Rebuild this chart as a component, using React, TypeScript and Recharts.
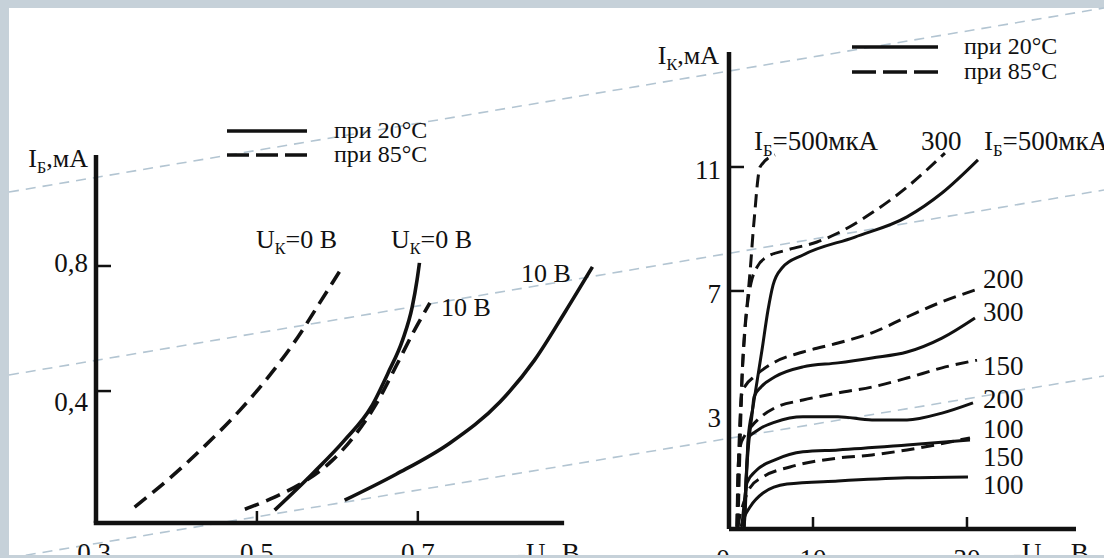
import { Line, LineChart, ReferenceLine, XAxis, YAxis } from "recharts";

type Pt = [number, number];

const INK = "#111";
const FONT = '"Liberation Serif", "Times New Roman", serif';

// ---- left panel: I_Б (мА) against -U_Б (В) ----
const LEFT_X_TICKS = [0.3, 0.5, 0.7];
const LEFT_Y_TICKS = [0.4, 0.8];
const LEFT_X_DOMAIN: [number, number] = [0.3, 0.95];
const LEFT_Y_DOMAIN: [number, number] = [-0.022, 1.155];
const LEFT_X_END = 0.879; // where the drawn axis stops

const ukHot0: Pt[] = [[0.348, 0.029], [0.392, 0.122], [0.435, 0.224], [0.479, 0.339], [0.516, 0.451], [0.551, 0.573], [0.578, 0.682], [0.607, 0.8]];
const ukCold0: Pt[] = [[0.522, 0.019], [0.57, 0.138], [0.609, 0.243], [0.642, 0.349], [0.663, 0.458], [0.681, 0.563], [0.693, 0.669], [0.699, 0.755], [0.702, 0.81]];
const ukHot10: Pt[] = [[0.485, 0.022], [0.522, 0.061], [0.56, 0.112], [0.594, 0.179], [0.624, 0.266], [0.649, 0.362], [0.673, 0.48], [0.694, 0.586], [0.715, 0.682]];
const ukCold10: Pt[] = [[0.609, 0.051], [0.673, 0.134], [0.74, 0.234], [0.802, 0.365], [0.845, 0.499], [0.883, 0.653], [0.917, 0.797]];

// ---- right panel: I_К (мА) against -U_КЭ (В) ----
const RIGHT_X_TICKS = [0, 10, 30];
const RIGHT_Y_TICKS = [3, 7, 11];
const RIGHT_X_DOMAIN: [number, number] = [-0.91, 44.16];
const RIGHT_Y_DOMAIN: [number, number] = [-0.68, 14.71];

const ibCold500: Pt[] = [[1.04, -0.61], [1.17, -0.23], [1.56, 2.19], [2.21, 3.26], [3.38, 5.1], [4.16, 6.39], [4.81, 7.19], [5.97, 7.74], [8.7, 8.16], [15.45, 8.74], [22.21, 9.39], [26.75, 10.16], [31.43, 11.23]];
const ibCold300: Pt[] = [[1.04, -0.61], [1.3, 0.9], [1.69, 2.19], [2.08, 3.0], [2.34, 3.58], [3.25, 3.9], [5.06, 4.23], [8.7, 4.55], [13.25, 4.68], [17.66, 4.84], [22.21, 5.03], [26.75, 5.48], [31.04, 6.13]];
const ibCold200: Pt[] = [[1.04, -0.61], [1.3, 0.9], [1.69, 2.29], [2.47, 2.45], [3.25, 2.58], [5.06, 2.77], [8.7, 2.94], [13.25, 2.94], [17.66, 2.84], [22.21, 2.84], [26.75, 3.06], [30.78, 3.39]];
const ibCold150: Pt[] = [[0.78, -0.55], [1.04, 0.1], [1.43, 0.81], [2.73, 1.23], [5.06, 1.55], [8.7, 1.81], [13.25, 1.87], [22.21, 2.03], [30.39, 2.19]];
const ibCold100: Pt[] = [[0.65, -0.61], [1.04, -0.32], [1.82, 0.03], [3.51, 0.48], [6.62, 0.77], [13.25, 0.87], [22.21, 0.97], [30.13, 1.0]];

const ibHot500: Pt[] = [[0.26, -0.61], [0.52, 1.97], [0.78, 4.13], [1.17, 5.74], [1.56, 6.87], [1.95, 8.0], [2.21, 8.87], [2.47, 9.61], [2.73, 10.35], [3.12, 11.0], [5.06, 11.39]];
const ibHot300: Pt[] = [[0.13, -0.61], [0.39, 1.55], [0.65, 3.48], [1.04, 5.42], [1.56, 6.71], [1.95, 7.26], [2.73, 7.77], [4.03, 8.1], [6.62, 8.32], [10.52, 8.58], [13.25, 8.87], [17.66, 9.52], [22.21, 10.35], [27.14, 11.45]];
const ibHot200: Pt[] = [[0.13, -0.61], [0.26, 0.9], [0.52, 2.84], [0.78, 3.71], [1.3, 3.97], [2.34, 4.23], [5.06, 4.71], [8.7, 5.03], [13.25, 5.32], [17.66, 5.65], [22.21, 6.16], [26.75, 6.65], [31.04, 7.03]];
const ibHot150: Pt[] = [[0.13, -0.61], [0.26, 1.23], [0.52, 1.97], [1.17, 2.35], [2.08, 2.65], [3.25, 2.94], [5.06, 3.23], [8.7, 3.48], [13.25, 3.71], [17.66, 3.9], [22.21, 4.19], [26.75, 4.52], [31.3, 4.77]];
const ibHot100: Pt[] = [[0.26, -0.61], [0.52, -0.23], [0.91, 0.1], [1.82, 0.65], [3.51, 1.0], [7.01, 1.32], [13.25, 1.61], [17.66, 1.71], [22.21, 1.87], [30.39, 2.26]];

const LEFT_SERIES = [
  { id: "uk0-85", pts: ukHot0, hot: true },
  { id: "uk0-20", pts: ukCold0, hot: false },
  { id: "uk10-85", pts: ukHot10, hot: true },
  { id: "uk10-20", pts: ukCold10, hot: false },
];

const RIGHT_SERIES = [
  { id: "500-20", pts: ibCold500, hot: false },
  { id: "300-20", pts: ibCold300, hot: false },
  { id: "200-20", pts: ibCold200, hot: false },
  { id: "150-20", pts: ibCold150, hot: false },
  { id: "100-20", pts: ibCold100, hot: false },
  { id: "500-85", pts: ibHot500, hot: true },
  { id: "300-85", pts: ibHot300, hot: true },
  { id: "200-85", pts: ibHot200, hot: true },
  { id: "150-85", pts: ibHot150, hot: true },
  { id: "100-85", pts: ibHot100, hot: true },
];

const LEGEND = ["при 20°C", "при 85°C"];
const RIGHT_END_LABELS = ["200", "300", "150", "200", "100", "150", "100"];

const rows = (pts: Pt[]) => pts.map(([x, y]) => ({ x, y }));
const comma = (v: number) => String(v).replace(".", ",");

function XTick({ x, y, payload, first, shift }: any) {
  const v = payload.value;
  const isFirst = v === first;
  return (
    <g>
      {!isFirst && <line x1={x} x2={x} y1={y} y2={y - 12} stroke={INK} strokeWidth={2.5} />}
      <text x={x + (isFirst ? shift : 0)} y={y + 39} textAnchor="middle" fontFamily={FONT} fontSize={27} fill={INK}>
        {comma(v)}
      </text>
    </g>
  );
}

function YTick({ x, y, payload, noMark, dy }: any) {
  const v = payload.value;
  return (
    <g>
      {!noMark.includes(v) && <line x1={x} x2={x + 15} y1={y} y2={y} stroke={INK} strokeWidth={2.5} />}
      <text x={x - 8} y={y + dy(v)} textAnchor="end" fontFamily={FONT} fontSize={27} fill={INK}>
        {comma(v)}
      </text>
    </g>
  );
}

function SubText({ x, y, main, sub, rest, size = 26, anchor = "start" }: any) {
  return (
    <text x={x} y={y} fontSize={size} textAnchor={anchor}>
      {main}
      <tspan fontSize={size * 0.62} dy={size * 0.22}>{sub}</tspan>
      <tspan dy={-size * 0.22}>{rest}</tspan>
    </text>
  );
}

function LegendBlock({ x, y, gap, len, textX }: any) {
  return (
    <g>
      {LEGEND.map((label, i) => (
        <g key={label}>
          <line x1={x} x2={x + len} y1={y + i * gap} y2={y + i * gap} stroke={INK} strokeWidth={3.5}
            strokeDasharray={i === 1 ? `${(len - 14) / 3} 7` : undefined} />
          <text x={textX} y={y + i * gap + 7} fontSize={24}>{label}</text>
        </g>
      ))}
    </g>
  );
}

function LeftChart() {
  return (
    <LineChart width={640} height={558} margin={{ top: 155, right: 21, bottom: 5, left: 36 }}>
      <XAxis type="number" dataKey="x" domain={LEFT_X_DOMAIN} ticks={LEFT_X_TICKS} allowDataOverflow interval={0}
        axisLine={false} tickLine={false} tickSize={0} tickMargin={0} height={30}
        tick={(p: any) => <XTick {...p} first={0.3} shift={-2} />} />
      <YAxis type="number" domain={LEFT_Y_DOMAIN} ticks={LEFT_Y_TICKS} allowDataOverflow interval={0}
        axisLine={{ stroke: INK, strokeWidth: 4.5 }} tickLine={false} tickSize={0} tickMargin={0} width={60}
        tick={(p: any) => <YTick {...p} noMark={[]} dy={(v: number) => (v === 0.4 ? 20 : 6)} />} />
      <ReferenceLine
        segment={[{ x: 0.3, y: LEFT_Y_DOMAIN[0] }, { x: LEFT_X_END, y: LEFT_Y_DOMAIN[0] }]}
        stroke={INK} strokeWidth={4.5} strokeLinecap="square" />
      {LEFT_SERIES.map((s) => (
        <Line key={s.id} data={rows(s.pts)} dataKey="y" type="monotone" stroke={INK} strokeWidth={3.6}
          strokeDasharray={s.hot ? "15 8" : undefined} dot={false} isAnimationActive={false} />
      ))}
    </LineChart>
  );
}

function RightChart() {
  return (
    <LineChart width={464} height={558} margin={{ top: 52, right: 28, bottom: 5, left: 29 }}>
      <XAxis type="number" dataKey="x" domain={RIGHT_X_DOMAIN} ticks={RIGHT_X_TICKS} allowDataOverflow interval={0}
        axisLine={{ stroke: INK, strokeWidth: 4.5 }} tickLine={false} tickSize={0} tickMargin={0} height={24}
        tick={(p: any) => <XTick {...p} first={0} shift={-13} />} />
      <YAxis type="number" domain={RIGHT_Y_DOMAIN} ticks={RIGHT_Y_TICKS} allowDataOverflow interval={0}
        axisLine={{ stroke: INK, strokeWidth: 4.5 }} tickLine={false} tickSize={0} tickMargin={0} width={60}
        tick={(p: any) => <YTick {...p} noMark={[3]} dy={() => 12} />} />
      {RIGHT_SERIES.map((s) => (
        <Line key={s.id} data={rows(s.pts)} dataKey="y" type="monotone" stroke={INK} strokeWidth={3}
          strokeDasharray={s.hot ? "13 7" : undefined} dot={false} isAnimationActive={false} />
      ))}
    </LineChart>
  );
}

export default function App() {
  return (
    <div style={{ position: "absolute", left: 0, top: 0, width: 1104, height: 558, overflow: "hidden", background: "#c6d1d9" }}>
      <div style={{ position: "absolute", left: 9, top: 8, width: 1095, height: 547, background: "#fff" }} />
      {/* faint watermark strokes of the scan */}
      <svg width={1104} height={558} style={{ position: "absolute", left: 0, top: 0 }}>
        <g stroke="#b3c5d2" strokeWidth={1.6} strokeDasharray="10 7" fill="none">
          <line x1={9} y1={192} x2={1104} y2={8} />
          <line x1={9} y1={375} x2={1104} y2={190} />
          <line x1={9} y1={558} x2={1104} y2={376} />
        </g>
      </svg>
      <div style={{ position: "absolute", left: 0, top: 0 }}>
        <LeftChart />
      </div>
      <div style={{ position: "absolute", left: 640, top: 0 }}>
        <RightChart />
      </div>
      <svg width={1104} height={558} style={{ position: "absolute", left: 0, top: 0 }} fontFamily={FONT} fill={INK}>
        {/* left panel */}
        <SubText x={88} y={167} main="I" sub="Б" rest=",мА" anchor="end" />
        <SubText x={517} y={562} main="-U" sub="Б" rest=",В" size={27} />
        <LegendBlock x={227} y={131} gap={24} len={80} textX={334} />
        <SubText x={256} y={248} main="U" sub="К" rest="=0 В" />
        <SubText x={391} y={248} main="U" sub="К" rest="=0 В" />
        <text x={441} y={316} fontSize={26}>10 В</text>
        <text x={521} y={282} fontSize={26}>10 В</text>
        {/* right panel */}
        <SubText x={719} y={64} main="I" sub="К" rest=",мА" anchor="end" />
        <SubText x={1013} y={562} main="-U" sub="КЭ" rest=",В" size={27} />
        <LegendBlock x={852} y={47} gap={25} len={86} textX={964} />
        <SubText x={754} y={150} main="I" sub="Б" rest="=500мкА" size={27} />
        <text x={921} y={150} fontSize={27}>300</text>
        <SubText x={984} y={150} main="I" sub="Б" rest="=500мкА" size={27} />
        {RIGHT_END_LABELS.map((t, i) => (
          <text key={i} x={983} y={[288, 321, 375, 408, 438, 466, 494][i]} fontSize={27}>{t}</text>
        ))}
      </svg>
      <div style={{ position: "absolute", left: 0, top: 555, width: 1104, height: 3, background: "#c6d1d9" }} />
    </div>
  );
}
